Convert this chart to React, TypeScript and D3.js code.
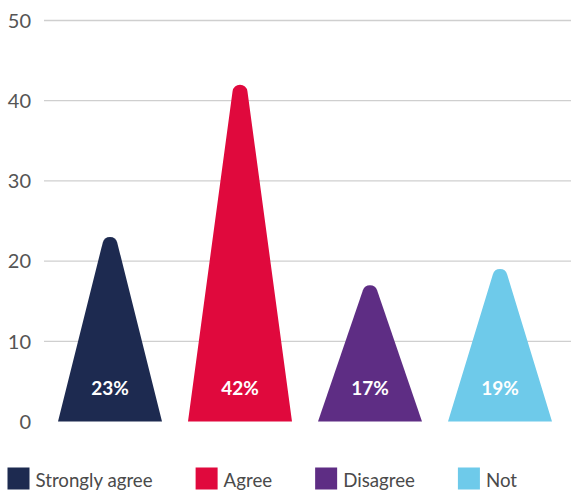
import React, { useEffect, useRef } from "react";
import * as d3 from "d3";

const categories = ["Strongly agree", "Agree", "Disagree", "Not"];
const values = [23, 42, 17, 19];
const valueLabels = ["23%", "42%", "17%", "19%"];
const colors = ["#1d2a50", "#e0093d", "#5e2d84", "#6ecaea"];
const yTicks = [0, 10, 20, 30, 40, 50];

const W = 571;
const H = 490;
const FONT = "Lato, 'Open Sans', sans-serif";

// Triangle with a rounded apex: circle of radius r tangent to both sides,
// its top sitting exactly at yTop.
function peakPath(cx: number, half: number, yBase: number, yTop: number, r: number) {
  const yc = yTop + r;
  const tangent = (px: number, left: boolean) => {
    const dx = px - cx;
    const dy = yBase - yc;
    const L = Math.hypot(dx, dy);
    const a = Math.atan2(dy, dx);
    const b = Math.acos(r / L);
    const ang = left ? a + b : a - b;
    return [cx + r * Math.cos(ang), yc + r * Math.sin(ang)];
  };
  const [lx, ly] = tangent(cx - half, true);
  const [rx, ry] = tangent(cx + half, false);
  return `M${cx - half},${yBase}L${lx},${ly}A${r},${r} 0 0 1 ${rx},${ry}L${cx + half},${yBase}Z`;
}

export default function App() {
  const ref = useRef<SVGSVGElement>(null);

  useEffect(() => {
    const svg = d3.select(ref.current);
    svg.selectAll("*").remove();

    const y = d3.scaleLinear().domain([0, 50]).range([421.5, 20.5]);
    const x = d3
      .scaleBand<string>()
      .domain(categories)
      .range([45, 565])
      .paddingInner(0.2)
      .paddingOuter(0.1);

    // gridlines
    svg
      .append("g")
      .selectAll("line")
      .data(yTicks.filter((t) => t > 0))
      .join("line")
      .attr("x1", 44)
      .attr("x2", W)
      .attr("y1", (d) => y(d))
      .attr("y2", (d) => y(d))
      .attr("stroke", "#cfcfcf")
      .attr("stroke-width", 1.3);

    // y tick labels
    svg
      .append("g")
      .selectAll("text")
      .data(yTicks)
      .join("text")
      .attr("x", 31)
      .attr("y", (d) => y(d))
      .attr("dy", "0.36em")
      .attr("text-anchor", "end")
      .attr("font-family", FONT)
      .attr("font-size", 20)
      .attr("fill", "#555555")
      .text((d) => String(d));

    // peaks
    const bw = x.bandwidth();
    svg
      .append("g")
      .selectAll("path")
      .data(categories)
      .join("path")
      .attr("d", (c, i) => peakPath(x(c)! + bw / 2, bw / 2, y(0), y(values[i]), 7.5))
      .attr("fill", (c, i) => colors[i]);

    // value labels
    svg
      .append("g")
      .selectAll("text")
      .data(categories)
      .join("text")
      .attr("x", (c) => x(c)! + bw / 2)
      .attr("y", 388.5)
      .attr("dy", "0.36em")
      .attr("text-anchor", "middle")
      .attr("font-family", FONT)
      .attr("font-weight", 700)
      .attr("font-size", 19)
      .attr("fill", "#ffffff")
      .text((c, i) => valueLabels[i]);

    // legend (runs off the bottom edge)
    const legend = svg.append("g");
    let lx = 7.5;
    categories.forEach((c, i) => {
      const g = legend.append("g").attr("transform", `translate(${lx},0)`);
      g.append("rect")
        .attr("x", 0)
        .attr("y", 467.5)
        .attr("width", 22)
        .attr("height", 22)
        .attr("fill", colors[i]);
      const t = g
        .append("text")
        .attr("x", 28)
        .attr("y", 487)
        .attr("font-family", FONT)
        .attr("font-size", 18.7)
        .attr("fill", "#4a4a4a")
        .text(c);
      const tw = (t.node() as SVGTextElement).getComputedTextLength();
      lx += 28 + tw + 43;
    });
  }, []);

  return (
    <svg
      ref={ref}
      width={W}
      height={H}
      style={{ position: "absolute", left: 0, top: 0, display: "block", background: "#fff" }}
    />
  );
}
